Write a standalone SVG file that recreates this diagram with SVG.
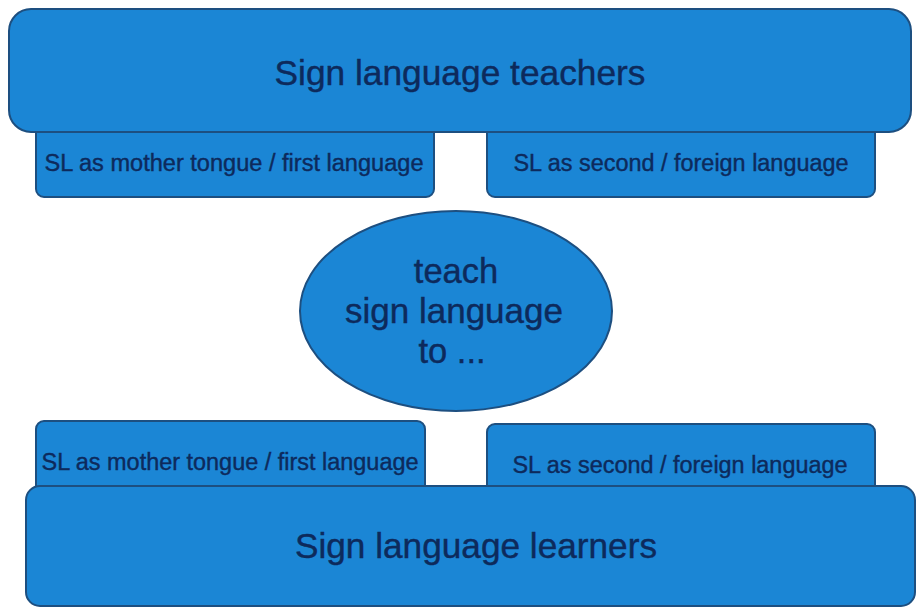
<svg xmlns="http://www.w3.org/2000/svg" width="917" height="608" viewBox="0 0 917 608">
<style>
.box{fill:#1b86d5;stroke:#1d4f80;stroke-width:2}
.t{font-family:"Liberation Sans",Arial,sans-serif;fill:#0d2a5c;stroke:#0d2a5c;stroke-width:0.4;text-anchor:middle}
.big{font-size:35px}
.sm{font-size:23px}
.el{font-size:34.5px}
</style>
<rect width="917" height="608" fill="#ffffff"/>
<g id="teacher-sl1">
<rect class="box" x="36" y="110" width="398" height="87" rx="8"/>
<text class="t sm" x="234" y="171" textLength="379" lengthAdjust="spacingAndGlyphs">SL as mother tongue / first language</text>
</g>
<g id="teacher-sl2">
<rect class="box" x="487" y="110" width="388" height="87" rx="8"/>
<text class="t sm" x="681" y="171" textLength="335" lengthAdjust="spacingAndGlyphs">SL as second / foreign language</text>
</g>
<g id="teachers">
<rect class="box" x="9" y="9" width="902" height="123" rx="22"/>
<text class="t big" x="460" y="85" textLength="371" lengthAdjust="spacingAndGlyphs">Sign language teachers</text>
</g>
<g id="teach">
<ellipse class="box" cx="456" cy="311" rx="156" ry="100"/>
<text class="t el" x="456" y="283">teach</text>
<text class="t el" x="454" y="323" textLength="218" lengthAdjust="spacingAndGlyphs">sign language</text>
<text class="t el" x="452" y="363">to ...</text>
</g>
<g id="learner-sl1">
<rect class="box" x="36" y="421" width="389" height="90" rx="8"/>
<text class="t sm" x="230" y="470" textLength="377" lengthAdjust="spacingAndGlyphs">SL as mother tongue / first language</text>
</g>
<g id="learner-sl2">
<rect class="box" x="487" y="424" width="388" height="87" rx="8"/>
<text class="t sm" x="680" y="473" textLength="335" lengthAdjust="spacingAndGlyphs">SL as second / foreign language</text>
</g>
<g id="learners">
<rect class="box" x="26" y="486" width="889" height="120" rx="14"/>
<text class="t big" x="476" y="558" textLength="362" lengthAdjust="spacingAndGlyphs">Sign language learners</text>
</g>
<g id="connectors"></g>
</svg>
